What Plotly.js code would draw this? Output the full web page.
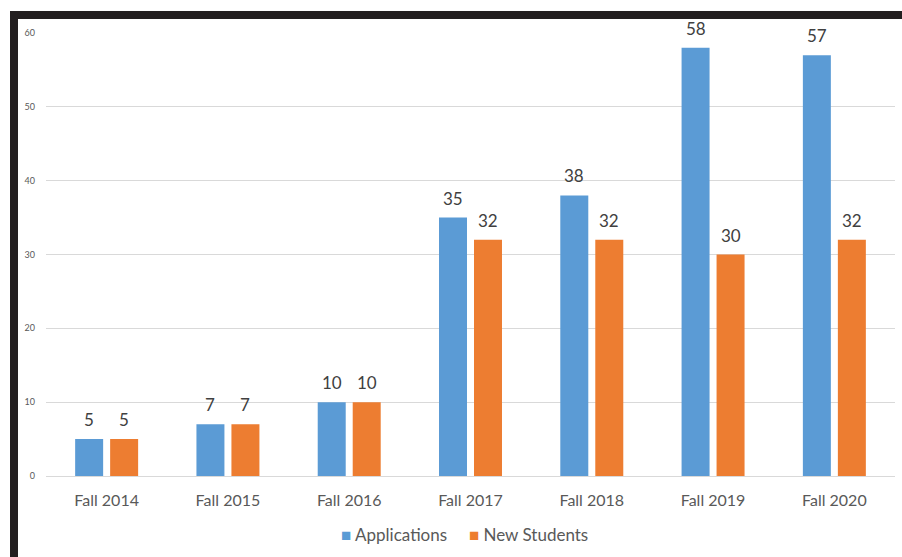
<!DOCTYPE html>
<html>
<head>
<meta charset="utf-8">
<script src="https://cdn.plot.ly/plotly-3.0.1.min.js"></script>
<style>
html,body{margin:0;padding:0;background:#fff;}
#wrap{position:relative;width:902px;height:557px;overflow:hidden;}
#chart{position:absolute;left:0;top:0;width:902px;height:557px;}
.bar-top{position:absolute;left:10px;top:11px;width:892px;height:8px;background:#231f20;}
.bar-left{position:absolute;left:10px;top:11px;width:8px;height:546px;background:#231f20;}
</style>
</head>
<body>
<div id="wrap">
<div id="chart"></div>
<div class="bar-top"></div>
<div class="bar-left"></div>
</div>
<script>
const categories = ["Fall 2014","Fall 2015","Fall 2016","Fall 2017","Fall 2018","Fall 2019","Fall 2020"];
const applications = [5, 7, 10, 35, 38, 58, 57];
const newStudents = [5, 7, 10, 32, 32, 30, 32];
const yTicks = [0, 10, 20, 30, 40, 50, 60];
const seriesNames = ["Applications", "New Students"];
const seriesColors = ["#5b9bd5", "#ed7d31"];

const fontFam = "Lato, 'Open Sans', sans-serif";
const traces = [
  {type:"bar", name:seriesNames[0], x:categories, y:applications,
   marker:{color:seriesColors[0]}, hoverinfo:"skip"},
  {type:"bar", name:seriesNames[1], x:categories, y:newStudents,
   marker:{color:seriesColors[1]}, hoverinfo:"skip"}
];

const annotations = [];
[applications, newStudents].forEach((vals, si) => {
  vals.forEach((v, i) => {
    annotations.push({x:categories[i], y:v, xref:"x", yref:"y", text:String(v),
      showarrow:false, yanchor:"bottom", xanchor:"center",
      xshift: si === 0 ? -17.5 : 17.5, yshift:7,
      font:{size:17, color:"#404040", family:fontFam}});
  });
});
// legend built as text
annotations.push({xref:"paper", yref:"paper", x:0.4935, y:-0.131, xanchor:"center", yanchor:"middle",
  showarrow:false,
  text: seriesNames.map((n, k) => "<span style='color:" + seriesColors[k] + "'>■</span> " + n).join("     "),
  font:{size:17, color:"#595959", family:fontFam}});

const layout = {
  width:902, height:557,
  margin:{l:46, r:7, t:33, b:81},
  paper_bgcolor:"#fff", plot_bgcolor:"#fff",
  font:{family:fontFam, color:"#595959"},
  barmode:"group", bargap:0.423, bargroupgap:0.2,
  showlegend:false,
  annotations: annotations,
  xaxis:{type:"category", tickfont:{size:16, color:"#595959"}, showline:true,
         linecolor:"#d9d9d9", linewidth:1, ticks:"", showgrid:false, zeroline:false,
         ticklabelstandoff:10},
  yaxis:{range:[0,60], tickvals:yTicks, ticktext:yTicks.map(String),
         tickfont:{size:9, color:"#595959"}, showgrid:true, gridcolor:"#d9d9d9",
         zeroline:false, ticks:"", ticklabelstandoff:10, showline:false}
};
Plotly.newPlot("chart", traces, layout, {staticPlot:true, displayModeBar:false});
</script>
</body>
</html>
